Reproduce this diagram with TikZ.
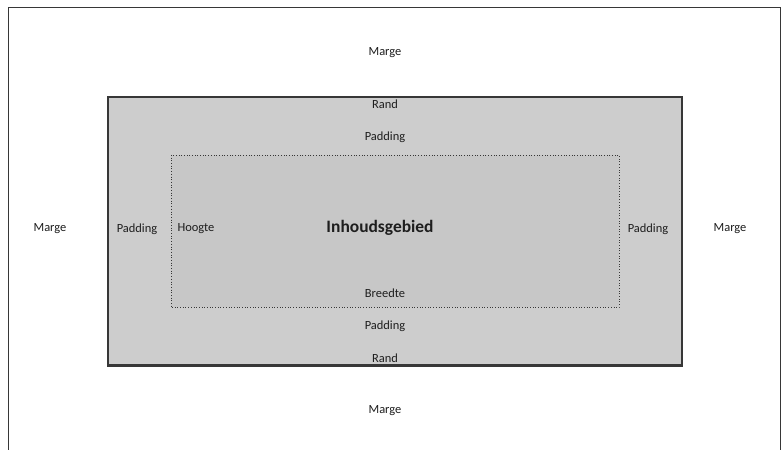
\documentclass[tikz,border=0pt]{standalone}
\usepackage{fontspec}
\setmainfont{Carlito}
\definecolor{randfill}{RGB}{205,205,205}
\definecolor{contfill}{RGB}{199,199,199}
\definecolor{edge}{RGB}{55,55,55}
\definecolor{txt}{RGB}{30,30,30}
\begin{document}
\begin{tikzpicture}[x=1bp,y=-1bp,
  lbl/.style={font=\fontsize{12.5}{14}\selectfont, text=txt, inner sep=0pt},
  big/.style={font=\fontsize{17.5}{20}\selectfont\bfseries, text=txt, inner sep=0pt}]
\useasboundingbox (0,0) rectangle (783,450);
\fill[white] (0,0) rectangle (783,450);
% outer margin frame (open at bottom)
\draw[edge, line width=1.6bp] (8.5,451) -- (8.5,7.5) -- (780.5,7.5) -- (780.5,451);
% border / padding box
\draw[edge, line width=2.2bp, fill=randfill] (108,97) rectangle (682,365.5);
% content box
\draw[edge, line width=0.7bp, dotted, fill=contfill] (171,155) rectangle (619,307.5);
% labels
\node[lbl] (m1) at (385,53) {Marge};
\node[lbl] (r1) at (385,104) {Rand};
\node[lbl] (p1) at (385,137.5) {Padding};
\node[lbl] (m2) at (50,229) {Marge};
\node[lbl] (p2) at (137,229) {Padding};
\node[lbl] (h) at (196,229) {Hoogte};
\node[big] (ib) at (380,228) {Inhoudsgebied};
\node[lbl] (p3) at (648,229) {Padding};
\node[lbl] (m3) at (730,229) {Marge};
\node[lbl] (b) at (385,293) {Breedte};
\node[lbl] (p4) at (385,326.5) {Padding};
\node[lbl] (r2) at (385,358) {Rand};
\node[lbl] (m4) at (385,411) {Marge};
\end{tikzpicture}
\end{document}
